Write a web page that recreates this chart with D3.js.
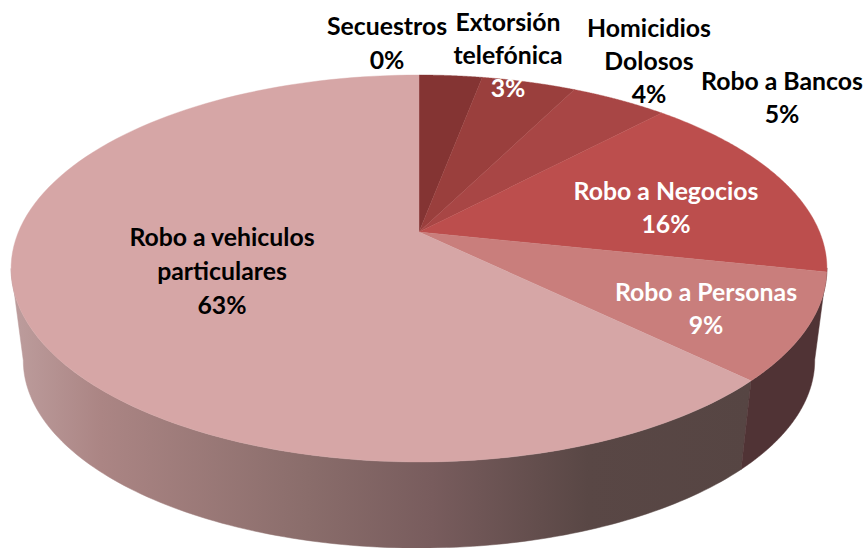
<!DOCTYPE html>
<html><head><meta charset="utf-8">
<script src="https://cdn.jsdelivr.net/npm/d3@7/dist/d3.min.js"></script>
<style>html,body{margin:0;padding:0;background:#fff}svg{display:block}
text{font-family:Lato,"Open Sans",sans-serif;font-weight:700;font-size:24.8px;text-anchor:middle}</style>
</head><body><svg id="c" width="865" height="548"></svg>
<script>
const categories = ["Secuestros","Extorsión telefónica","Homicidios Dolosos","Robo a Bancos","Robo a Negocios","Robo a Personas","Robo a vehiculos particulares"];
const values = [0, 3.0, 4.49, 4.6, 16.2, 8.9, 62.8];
const colors = ["#7a2e2e","#843433","#9a3f3d","#a84645","#bc4e4d","#c97e7c","#d6a6a6"];
const labelLines = [["Secuestros"],["Extorsión","telefónica"],["Homicidios","Dolosos"],["Robo a Bancos"],["Robo a Negocios"],["Robo a Personas"],["Robo a vehiculos","particulares"]];
const labelFill = ["#000","#000","#000","#000","#fff","#fff","#000"];
const pctFill = ["#000","#fff","#000","#000","#fff","#fff","#000"];
const labelAnchor = [[387,35],[508,31],[649,37],[782,90],[666,200],[706,301],[222,246]];
const lineGaps = [34,33,33,33,33,33,34];

const svg = d3.select("#c");
const pct = d3.format(".0f");
const arcs = d3.pie().sort(null).value(d=>d)(values);

// perspective projection of the pie's disc
const k = 0.1886, cx = 419;
const top_ = {cy:232, A:400.6, B:186.6};
const bot_ = {cy:325, A:388.6, B:181};
function proj(t, p){
  const n = -Math.cos(t), u = Math.sin(t), w = 1-k*n;
  return [cx + p.A*u/w, p.cy + p.B*n/w];
}
const line = d3.line();
const samples = (a,b) => d3.range(0,121).map(i=>a+(b-a)*i/120);

// side wall
const defs = svg.append("defs");
const grad = defs.append("linearGradient").attr("id","wall").attr("gradientUnits","userSpaceOnUse")
  .attr("x1",12).attr("x2",750).attr("y1",0).attr("y2",0);
[[0,"#bd9d9d"],[.12,"#ab8584"],[.4,"#8a6d6b"],[.57,"#785c5d"],[.78,"#594745"],[1,"#564543"]]
  .forEach(s=>grad.append("stop").attr("offset",s[0]).attr("stop-color",s[1]));

function wall(a,b,fill){
  const ts = samples(a,b);
  const pts = ts.map(t=>proj(t,top_)).concat(ts.slice().reverse().map(t=>proj(t,bot_)));
  svg.append("path").attr("d",line(pts)+"Z").attr("fill",fill).attr("stroke",fill).attr("stroke-width",.5);
}
const persona = arcs[5], veh = arcs[6];
const leftExtreme = 1.5*Math.PI - Math.asin(k);
wall(veh.startAngle, leftExtreme, "url(#wall)");
wall(persona.startAngle-0.02, persona.endAngle, "#503335");

// top face
svg.selectAll("path.slice").data(arcs).enter().append("path").attr("class","slice")
  .attr("d",d=>{
    const pts = samples(d.startAngle,d.endAngle).map(t=>proj(t,top_));
    return line([[cx,top_.cy],...pts])+"Z";
  })
  .attr("fill",(d,i)=>colors[i]).attr("stroke",(d,i)=>colors[i]).attr("stroke-width",.4);

// labels
categories.forEach((c,i)=>{
  const [x,y] = labelAnchor[i], g = lineGaps[i];
  labelLines[i].forEach((l,j)=>svg.append("text").attr("x",x).attr("y",y+j*g).attr("fill",labelFill[i]).text(l));
  svg.append("text").attr("x",x).attr("y",y+labelLines[i].length*g).attr("fill",pctFill[i]).text(pct(values[i])+"%");
});
</script></body></html>
